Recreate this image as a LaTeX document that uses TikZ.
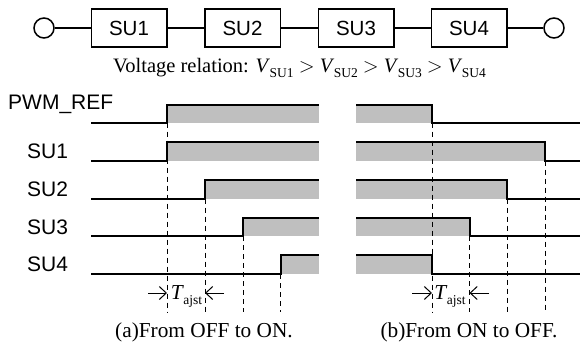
\documentclass[tikz,border=0pt]{standalone}
\usepackage{fontspec}
\setmainfont{Liberation Serif}
\newfontfamily\arialf{Liberation Sans}
\usetikzlibrary{arrows.meta}
\newcommand{\SubV}[1]{\textit{V}\kern-0.5pt\raisebox{-0.24em}{\fontsize{13.5pt}{13.5pt}\selectfont #1}}
\tikzset{x=1pt,y=-1pt,
  subox/.style={draw,line width=1.5pt,minimum width=75.5pt,minimum height=38pt,inner sep=0pt,font=\arialf\fontsize{20.5pt}{20.5pt}\selectfont},
  termcirc/.style={circle,draw,line width=1.5pt,minimum size=20pt,inner sep=0pt},
  wireline/.style={line width=1.5pt},
  waveline/.style={line width=2pt,line join=miter},
  grayband/.style={fill=black!25,draw=none},
  guideline/.style={line width=1pt,dash pattern=on 5pt off 4pt},
  siglabel/.style={font=\arialf\fontsize{21pt}{21pt}\selectfont,inner sep=0pt,anchor=base west},
  captext/.style={font=\fontsize{21.3pt}{21.3pt}\selectfont,inner sep=0pt,anchor=base},
  reltext/.style={font=\fontsize{20.5pt}{20.5pt}\selectfont,inner sep=0pt,anchor=base west},
  dimarrow/.style={line width=1pt,-{Straight Barb[length=7pt,width=13pt,line width=1pt]}},
}
\begin{document}
\begin{tikzpicture}
\useasboundingbox (0,0) rectangle (581,345);
% series chain
\node[termcirc] (tl) at (44,28) {};
\node[subox] (s1) at (129,28) {SU1};
\node[subox] (s2) at (242.5,28) {SU2};
\node[subox] (s3) at (356,28) {SU3};
\node[subox] (s4) at (469,28) {SU4};
\node[termcirc] (tr) at (554,28) {};
\draw[wireline] (tl) -- (s1);
\draw[wireline] (s1) -- (s2);
\draw[wireline] (s2) -- (s3);
\draw[wireline] (s3) -- (s4);
\draw[wireline] (s4) -- (tr);
\node[reltext] (rel) at (113,73) {Voltage relation: \SubV{SU1} \(>\) \SubV{SU2} \(>\) \SubV{SU3} \(>\) \SubV{SU4}};
% shaded areas
\fill[grayband] (167,104.5) rectangle (319,122.5);
\fill[grayband] (167,142) rectangle (319,160.5);
\fill[grayband] (205,179.5) rectangle (319,198.5);
\fill[grayband] (243,217.5) rectangle (319,236);
\fill[grayband] (280.5,255) rectangle (319,274);
\fill[grayband] (356,104.5) rectangle (432,122.5);
\fill[grayband] (356,142) rectangle (545,160.5);
\fill[grayband] (356,179.5) rectangle (507,198.5);
\fill[grayband] (356,217.5) rectangle (469.5,236);
\fill[grayband] (356,255) rectangle (432,274);
% dashed guide lines
\draw[guideline] (167,122.5) -- (167,312);
\draw[guideline] (205,198.5) -- (205,312);
\draw[guideline] (243,236) -- (243,312);
\draw[guideline] (280.5,274) -- (280.5,312);
\draw[guideline] (432,122.5) -- (432,312);
\draw[guideline] (469.5,236) -- (469.5,312);
\draw[guideline] (507,198.5) -- (507,312);
\draw[guideline] (545,160.5) -- (545,312);
% waveforms
\draw[waveline] (91,122.5) -- (167,122.5) -- (167,104.5) -- (319,104.5);
\draw[waveline] (91,160.5) -- (167,160.5) -- (167,142) -- (319,142);
\draw[waveline] (91,198.5) -- (205,198.5) -- (205,179.5) -- (319,179.5);
\draw[waveline] (91,236) -- (243,236) -- (243,217.5) -- (319,217.5);
\draw[waveline] (91,274) -- (280.5,274) -- (280.5,255) -- (319,255);
\draw[waveline] (356,104.5) -- (432,104.5) -- (432,122.5) -- (580,122.5);
\draw[waveline] (356,142) -- (545,142) -- (545,160.5) -- (580,160.5);
\draw[waveline] (356,179.5) -- (507,179.5) -- (507,198.5) -- (580,198.5);
\draw[waveline] (356,217.5) -- (469.5,217.5) -- (469.5,236) -- (580,236);
\draw[waveline] (356,255) -- (432,255) -- (432,274) -- (580,274);
% signal labels
\node[siglabel] (lp) at (8,110) {PWM\_REF};
\node[siglabel] (l1) at (27,158.5) {SU1};
\node[siglabel] (l2) at (27,196.5) {SU2};
\node[siglabel] (l3) at (27,234) {SU3};
\node[siglabel] (l4) at (27,271.5) {SU4};
% T_ajst
\coordinate (a1) at (148,293); \coordinate (a2) at (167,293);
\coordinate (a3) at (224,293); \coordinate (a4) at (205,293);
\coordinate (b1) at (412,293); \coordinate (b2) at (432,293);
\coordinate (b3) at (489,293); \coordinate (b4) at (469.5,293);
\draw[dimarrow] (a1) -- (a2);
\draw[dimarrow] (a3) -- (a4);
\draw[dimarrow] (b1) -- (b2);
\draw[dimarrow] (b3) -- (b4);
\node[captext] (ta) at (186.5,299) {\textit{T}\kern-0.5pt\raisebox{-0.24em}{\fontsize{13.5pt}{13.5pt}\selectfont ajst}};
\node[captext] (tb) at (450,299) {\textit{T}\kern-0.5pt\raisebox{-0.24em}{\fontsize{13.5pt}{13.5pt}\selectfont ajst}};
% captions
\node[captext] (ca) at (204,337) {(a)From OFF to ON.};
\node[captext] (cb) at (469,337) {(b)From ON to OFF.};
\end{tikzpicture}
\end{document}
